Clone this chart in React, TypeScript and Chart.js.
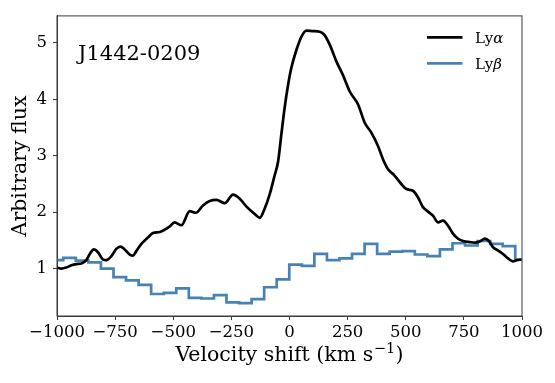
import { useEffect, useRef } from "react";
import { Chart, registerables } from "chart.js";

Chart.register(...registerables);

// ---------------- data ----------------
const objectName = "J1442-0209";

const lyaVelocity = [
  -1000, -981, -960, -938, -917, -895, -874, -859, -842, -824,
  -802, -788, -766, -745, -727, -709, -687, -673, -659, -637,
  -609, -587, -558, -537, -515, -494, -465, -429, -403, -372,
  -343, -314, -279, -243, -214, -185, -150, -128, -107, -85,
  -64, -49, -35, -21, -6, 8, 30, 51, 73, 101,
  130, 151, 173, 202, 230, 259, 295, 323, 352, 381,
  402, 424, 452, 481, 503, 531, 553, 574, 596, 617,
  639, 660, 682, 703, 725, 746, 775, 797, 818, 840,
  858, 875, 897, 918, 940, 961, 978, 997,
];
const lyaFlux = [
  1.02, 1.0, 1.02, 1.06, 1.08, 1.09, 1.15, 1.26, 1.34, 1.29,
  1.16, 1.15, 1.22, 1.35, 1.39, 1.34, 1.25, 1.23, 1.31, 1.44,
  1.55, 1.63, 1.65, 1.69, 1.75, 1.82, 1.77, 2.02, 1.99, 2.12,
  2.2, 2.22, 2.16, 2.31, 2.24, 2.1, 1.97, 1.9, 2.06, 2.32,
  2.65, 2.9, 3.38, 3.85, 4.26, 4.56, 4.88, 5.11, 5.22, 5.21,
  5.2, 5.14, 4.97, 4.67, 4.43, 4.14, 3.91, 3.59, 3.41, 3.17,
  2.94, 2.76, 2.65, 2.5, 2.41, 2.38, 2.26, 2.09, 2.01, 1.94,
  1.82, 1.85, 1.76, 1.62, 1.53, 1.49, 1.47, 1.46, 1.48, 1.53,
  1.49, 1.38, 1.32, 1.26, 1.18, 1.13, 1.15, 1.16,
];

// left edges of the Ly-beta bins, and the flux in each bin
const lybBinEdges = [
  -1000, -973, -919, -865, -811, -757, -703, -649, -595, -541,
  -487, -433, -379, -325, -271, -217, -163, -109, -55, -1,
  53, 107, 161, 215, 269, 323, 377, 431, 485, 539,
  593, 647, 701, 755, 809, 863, 917, 971,
];
const lybFlux = [
  1.15, 1.19, 1.14, 1.11, 1.0, 0.85, 0.79, 0.71, 0.55, 0.57,
  0.65, 0.48, 0.47, 0.53, 0.4, 0.39, 0.46, 0.67, 0.81, 1.07,
  1.05, 1.26, 1.15, 1.18, 1.26, 1.44, 1.26, 1.3, 1.31, 1.25,
  1.22, 1.34, 1.45, 1.41, 1.49, 1.44, 1.4, 1.16,
];

const xTicks = [-1000, -750, -500, -250, 0, 250, 500, 750, 1000];
const yTicks = [1, 2, 3, 4, 5];
const xRange = [-1000, 1000];
const yRange = [0.16, 5.48];

const legendLabels = [
  { base: "Ly", greek: "α", color: "#000000" },
  { base: "Ly", greek: "β", color: "#4682b4" },
];
const xTitleMain = "Velocity shift (km s";
const xTitleSup = "−1";
const xTitleEnd = ")";
const yTitle = "Arbitrary flux";

// ---------------- styling ----------------
const SERIF = '"DejaVu Serif", "Liberation Serif", serif';
const AXIS_COLOR = "#3a3a3a";

const fmt = (v: number) => (v < 0 ? "\u2212" + Math.abs(v) : String(v));

const decorPlugin = {
  id: "decor",
  afterDraw(chart: any) {
    const { ctx, chartArea } = chart;
    const { left, right, top, bottom } = chartArea;
    ctx.save();
    // frame
    ctx.strokeStyle = AXIS_COLOR;
    ctx.lineWidth = 1;
    ctx.strokeRect(left, top, right - left, bottom - top);

    // object name
    ctx.fillStyle = "#000";
    ctx.textBaseline = "alphabetic";
    ctx.textAlign = "left";
    ctx.font = `21px ${SERIF}`;
    ctx.fillText(objectName, left + 21, top + 44.5);

    // legend
    const lx0 = right - 95;
    const lx1 = right - 59.5;
    const tx = right - 47;
    legendLabels.forEach((item, i) => {
      const y = top + 21.5 + i * 26;
      ctx.strokeStyle = item.color;
      ctx.lineWidth = 2.6;
      ctx.beginPath();
      ctx.moveTo(lx0, y);
      ctx.lineTo(lx1, y);
      ctx.stroke();
      ctx.fillStyle = "#000";
      ctx.font = `15px ${SERIF}`;
      ctx.fillText(item.base, tx, y + 6);
      const w = ctx.measureText(item.base).width;
      ctx.font = `italic 15px ${SERIF}`;
      ctx.fillText(item.greek, tx + w, y + 6);
    });

    // x title
    const cx = (left + right) / 2;
    ctx.font = `20.5px ${SERIF}`;
    const w1 = ctx.measureText(xTitleMain).width;
    const w3 = ctx.measureText(xTitleEnd).width;
    ctx.font = `14.5px ${SERIF}`;
    const w2 = ctx.measureText(xTitleSup).width;
    const total = w1 + w2 + w3 + 1;
    let x = cx - total / 2;
    const by = 361;
    ctx.font = `20.5px ${SERIF}`;
    ctx.fillText(xTitleMain, x, by);
    x += w1;
    ctx.font = `14.5px ${SERIF}`;
    ctx.fillText(xTitleSup, x + 0.5, by - 8);
    x += w2 + 1;
    ctx.font = `20.5px ${SERIF}`;
    ctx.fillText(xTitleEnd, x, by);

    // y title
    ctx.save();
    ctx.translate(26, (top + bottom) / 2);
    ctx.rotate(-Math.PI / 2);
    ctx.textAlign = "center";
    ctx.font = `20.5px ${SERIF}`;
    ctx.fillText(yTitle, 0, 0);
    ctx.restore();

    ctx.restore();
  },
};

export default function App() {
  const canvasRef = useRef<HTMLCanvasElement | null>(null);

  useEffect(() => {
    if (!canvasRef.current) return;
    const lyaData = lyaVelocity.map((v, i) => ({ x: v, y: lyaFlux[i] }));
    const lybData = lybBinEdges.map((v, i) => ({ x: v, y: lybFlux[i] }));
    lybData.push({ x: xRange[1], y: lybFlux[lybFlux.length - 1] });

    const tickFont = { family: SERIF, size: 16.5 };

    const chart = new Chart(canvasRef.current, {
      type: "line",
      data: {
        datasets: [
          {
            label: "Lyα",
            data: lyaData,
            borderColor: "#000000",
            borderWidth: 2.7,
            pointRadius: 0,
            tension: 0.35,
            cubicInterpolationMode: "monotone",
            fill: false,
          },
          {
            label: "Lyβ",
            data: lybData,
            borderColor: "#4682b4",
            borderWidth: 2.7,
            pointRadius: 0,
            stepped: "before",
            fill: false,
          },
        ],
      },
      options: {
        animation: false,
        responsive: false,
        maintainAspectRatio: false,
        devicePixelRatio: 1,
        layout: { padding: { left: 0, right: 33, top: 15, bottom: 0 } },
        plugins: {
          legend: { display: false },
          tooltip: { enabled: false },
          title: { display: false },
        },
        scales: {
          x: {
            type: "linear",
            min: xRange[0],
            max: xRange[1],
            afterBuildTicks: (s: any) => {
              s.ticks = xTicks.map((v) => ({ value: v }));
            },
            afterFit: (s: any) => {
              s.height = 67;
            },
            ticks: {
              autoSkip: false,
              maxRotation: 0,
              minRotation: 0,
              padding: 3,
              color: "#000",
              font: tickFont,
              callback: (v: any) => fmt(Number(v)),
            },
            grid: {
              drawOnChartArea: false,
              drawTicks: true,
              tickLength: 4,
              color: AXIS_COLOR,
            },
            border: { display: true, color: AXIS_COLOR },
          },
          y: {
            type: "linear",
            min: yRange[0],
            max: yRange[1],
            afterBuildTicks: (s: any) => {
              s.ticks = yTicks.map((v) => ({ value: v }));
            },
            afterFit: (s: any) => {
              s.width = 57;
            },
            ticks: {
              padding: 6,
              color: "#000",
              font: tickFont,
              callback: (v: any) => fmt(Number(v)),
            },
            grid: {
              drawOnChartArea: false,
              drawTicks: true,
              tickLength: 4,
              color: AXIS_COLOR,
            },
            border: { display: true, color: AXIS_COLOR },
          },
        },
      },
      plugins: [decorPlugin],
    } as any);

    return () => chart.destroy();
  }, []);

  return (
    <div style={{ position: "fixed", left: 0, top: 0, width: 555, height: 383, background: "#fff" }}>
      <canvas ref={canvasRef} width={555} height={383} style={{ display: "block", width: 555, height: 383 }} />
    </div>
  );
}
